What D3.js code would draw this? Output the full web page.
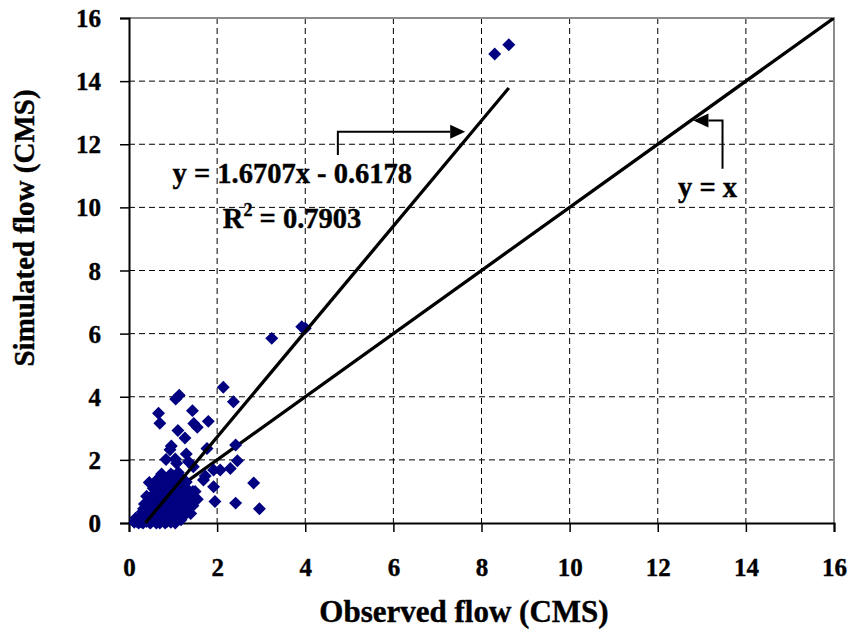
<!DOCTYPE html>
<html><head><meta charset="utf-8">
<script src="https://cdn.jsdelivr.net/npm/d3@7"></script>
<style>body{margin:0;background:#fff}svg{display:block}</style>
</head><body>
<svg id="c" width="854" height="634"></svg>
<script>
// ---- data ----
const xTicks = [0,2,4,6,8,10,12,14,16];
const yTicks = [0,2,4,6,8,10,12,14,16];
const observed = [
 8.62,8.30,3.92,4.00,3.24,
 2.14,2.37,1.14,1.06,0.67,0.70,1.44,1.80,1.47,1.55,1.11,1.27,1.77,2.42,0.96,0.93,0.84,1.05,1.08,1.30,1.35,
 2.46,2.30,2.07,1.92,1.73,2.83,1.92,1.95,2.42,2.96,0.46,0.74,0.40,1.46,1.69,0.97,
 0.12,0.18,0.22,0.25,0.28,0.30,0.32,0.35,0.38,0.40,0.42,0.45,0.48,0.50,0.52,0.55,0.58,0.60,0.62,0.65,
 0.68,0.70,0.72,0.75,0.78,0.80,0.82,0.85,0.88,0.90,0.92,0.95,0.98,1.00,1.02,1.05,1.10,1.12,1.15,1.20,
 1.25,1.30,1.35,1.40,1.45,0.55,0.65,0.75,0.85,0.95,0.70,0.60,0.50,0.45,0.40,0.90,1.00,0.80,1.10,1.20,
 1.30,0.35,0.30,1.05,1.00,0.60,0.72,0.62,1.50,1.55,1.45,1.35,0.55,0.85,1.25,0.20,0.15,0.65,0.78,1.18,
 0.88,0.98,1.08,0.58,0.68,0.78,0.92,1.02,1.15,1.28,0.52,0.62,0.82,0.95,1.12,0.74,0.86,1.22,1.40,0.33
];
const simulated = [
 15.15,14.86,6.22,6.17,5.85,
 4.30,3.84,4.05,3.93,3.48,3.16,3.56,3.22,3.15,3.03,2.93,2.69,2.36,2.47,2.44,2.32,2.01,2.03,1.89,2.19,1.94,
 1.97,1.73,1.68,1.68,1.49,1.27,1.15,0.68,0.63,0.45,1.28,1.55,0.62,1.78,1.36,1.47,
 0.02,0.05,0.00,0.10,0.03,0.20,0.00,0.12,0.30,0.05,0.45,0.20,0.00,0.60,0.35,0.10,0.80,0.50,0.00,0.25,
 0.95,0.65,0.05,0.40,1.10,0.80,0.00,0.30,1.00,0.60,0.10,0.45,1.20,0.85,0.20,0.55,1.00,0.70,0.35,0.90,
 0.60,1.10,0.80,0.65,1.00,0.90,1.20,0.15,0.05,0.02,0.00,0.15,0.02,0.70,0.85,1.35,1.50,1.30,1.25,1.40,
 1.30,0.60,0.35,0.00,0.10,1.05,1.45,0.75,1.00,0.75,0.55,0.45,1.10,1.15,0.25,0.08,0.15,0.55,0.20,0.10,
 0.40,0.30,0.15,0.30,0.45,0.55,0.75,0.65,0.50,0.35,0.75,1.35,1.40,1.55,1.60,0.90,0.05,0.20,0.30,0.45
];
const slope = 1.6707, intercept = -0.6178;
const identity = [0,16];
const labels = [
 {text:"y = 1.6707x - 0.6178", x:0.99, y:10.76},
 {text:"R", sup:"2", rest:" = 0.7903", x:2.13, y:9.34},
 {text:"y = x", x:12.46, y:10.34}
];
const arrowTrend = [[4.74,11.66],[4.74,12.40],[7.63,12.40]];
const arrowIdent = [[13.47,11.22],[13.47,12.75],[12.81,12.75]];

// ---- chart ----
const svg = d3.select("#c");
const L=129, R=834, T=18, B=523;
const x = d3.scaleLinear().domain([0,16]).range([L,R]);
const y = d3.scaleLinear().domain([0,16]).range([B,T]);
const font = "'Liberation Serif','Times New Roman',serif";

svg.append("defs").append("clipPath").attr("id","clip")
  .append("rect").attr("x",L).attr("y",T).attr("width",R-L).attr("height",B-T+8);

// grid
svg.append("g").selectAll("line").data(xTicks.filter(d=>d>0&&d<16)).join("line")
  .attr("x1",d=>x(d)).attr("x2",d=>x(d)).attr("y1",T).attr("y2",B)
  .attr("stroke","#000").attr("stroke-width",1).attr("stroke-dasharray","6,4");
svg.append("g").selectAll("line").data(yTicks.filter(d=>d>0&&d<16)).join("line")
  .attr("y1",d=>y(d)).attr("y2",d=>y(d)).attr("x1",L).attr("x2",R)
  .attr("stroke","#000").attr("stroke-width",1).attr("stroke-dasharray","6,4");
// plot border (top/right gray)
svg.append("path").attr("d",`M${L},${T}H${R}V${B}`).attr("fill","none")
  .attr("stroke","#8c8c8c").attr("stroke-width",2);

// axes
const xa = svg.append("g").attr("transform",`translate(0,${B})`)
  .call(d3.axisBottom(x).tickValues(xTicks).tickSize(9).tickPadding(35).tickFormat(d3.format("d")));
const ya = svg.append("g").attr("transform",`translate(${L},0)`)
  .call(d3.axisLeft(y).tickValues(yTicks).tickSize(9).tickPadding(19).tickFormat(d3.format("d")));
[xa,ya].forEach(a=>{
  a.attr("font-family",font).attr("font-size",25);
  a.select(".domain").attr("stroke","#000").attr("stroke-width",2);
  a.selectAll(".tick line").attr("stroke","#000").attr("stroke-width",1.5);
  a.selectAll("text").style("font-family",font).style("font-weight","bold").style("font-size","25px")
    .attr("fill","#000").attr("stroke","#000").attr("stroke-width",0.4);
});
xa.selectAll("text").attr("dy","0.35em");
ya.selectAll("text").attr("dy","0.34em");

// identity line (under points)
const g = svg.append("g").attr("clip-path","url(#clip)");
g.append("line").attr("x1",x(identity[0])).attr("y1",y(identity[0]))
  .attr("x2",x(identity[1])).attr("y2",y(identity[1]))
  .attr("stroke","#000").attr("stroke-width",3.3);

// points
const sym = d3.symbol().type(d3.symbolSquare).size(84);
g.selectAll("path.pt").data(observed.map((o,i)=>[o,simulated[i]])).join("path")
  .attr("class","pt").attr("d",sym)
  .attr("transform",d=>`translate(${x(d[0])},${y(d[1])}) rotate(45)`)
  .attr("fill","#000080");

// trendline
const xmin = d3.min(observed), xmax = d3.max(observed);
const x0 = Math.max(xmin, -intercept/slope);
svg.append("line").attr("x1",x(x0)).attr("y1",y(slope*x0+intercept))
  .attr("x2",x(xmax)).attr("y2",y(slope*xmax+intercept))
  .attr("stroke","#000").attr("stroke-width",3.3);

// arrows
const line = d3.line().x(d=>x(d[0])).y(d=>y(d[1]));
function arrow(pts){
  const n=pts.length, p=pts[n-1], q=pts[n-2];
  const dx = x(p[0])-x(q[0]), dir = Math.sign(dx);
  const tip = [x(p[0]), y(p[1])];
  const base = tip[0]-dir*15;
  svg.append("path").attr("d",line(pts.slice(0,n-1))+`L${base},${tip[1]}`)
    .attr("fill","none").attr("stroke","#000").attr("stroke-width",2);
  svg.append("path").attr("d",`M${tip[0]},${tip[1]}L${base},${tip[1]-7}L${base},${tip[1]+7}Z`).attr("fill","#000");
}
arrow(arrowTrend); arrow(arrowIdent);

// labels
labels.forEach(l=>{
  const t = svg.append("text").attr("x",x(l.x)).attr("y",y(l.y))
    .style("font-family",font).style("font-weight","bold").style("font-size","28.5px")
    .attr("fill","#000").attr("stroke","#000").attr("stroke-width",0.4);
  t.append("tspan").text(l.text);
  if(l.sup){
    t.append("tspan").style("font-size","18px").attr("dy",-12).text(l.sup);
    t.append("tspan").attr("dy",12).text(l.rest);
  }
});

// axis titles
svg.append("text").attr("x",464).attr("y",622).attr("text-anchor","middle")
  .style("font-family",font).style("font-weight","bold").style("font-size","31px")
  .attr("stroke","#000").attr("stroke-width",0.4).text("Observed flow (CMS)");
svg.append("text").attr("transform","translate(34,228) rotate(-90)").attr("text-anchor","middle")
  .style("font-family",font).style("font-weight","bold").style("font-size","29px")
  .attr("stroke","#000").attr("stroke-width",0.4).text("Simulated flow (CMS)");
</script>
</body></html>
